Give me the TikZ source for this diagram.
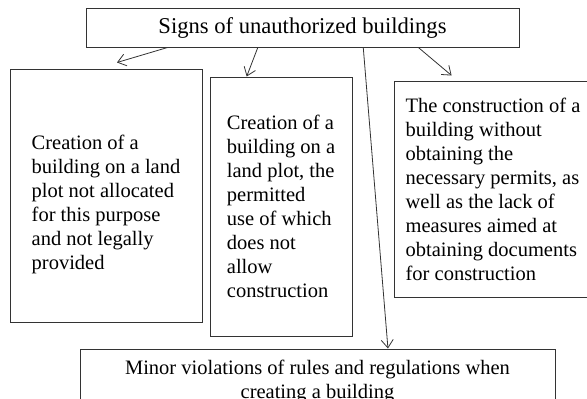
\documentclass[tikz,border=0pt]{standalone}
\usepackage{fontspec}
\setmainfont{Liberation Serif}
\usetikzlibrary{positioning,calc,arrows.meta}

\begin{document}
\begin{tikzpicture}[x=1pt, y=-1pt]
    \useasboundingbox (0,0) rectangle (587,399);
    \tikzset{box/.style={draw=black!80, line width=1pt, inner sep=0pt, align=left,
                         font=\fontsize{20.5}{24}\selectfont},
             sign/.style={draw=black!80, line width=0.8pt, -{Straight Barb[length=8pt,width=12pt]}}}
    % TOP BOX
    \node[box, align=center, font=\fontsize{22.6}{26}\selectfont, minimum width=433pt, minimum height=39pt]
        (signs) at (302.5, 27.5) {Signs of unauthorized buildings};
    % THREE SIGNS
    \node[box, minimum width=192pt, minimum height=253pt] (plot) at (106, 195.5)
        {\rule{0pt}{33pt}Creation of a\\building on a land\\plot not allocated\\for this purpose\\and not legally\\provided};
    \node[box, minimum width=142pt, minimum height=259pt] (use) at (281, 206.5)
        {Creation of a\\building on a\\land plot, the\\permitted\\use of which\\does not\\allow\\construction};
    \node[box, minimum width=198pt, minimum height=216pt] (permits) at (493, 189)
        {The construction of a\\building without\\obtaining the\\necessary permits, as\\well as the lack of\\measures aimed at\\obtaining documents\\for construction};
    % BOTTOM BOX
    \node[box, align=center, minimum width=475pt, minimum height=64pt] (minor) at (317.5, 381)
        {Minor violations of rules and regulations when\\creating a building};
    % ARROWS
    \draw[sign] ($(signs.south west)!0.189!(signs.south east)$) -- ($(plot.north west)!0.557!(plot.north east)+(0,-6)$);
    \draw[sign] ($(signs.south west)!0.397!(signs.south east)$) -- ($(use.north west)!0.26!(use.north east)$);
    \draw[sign] ($(signs.south west)!0.64!(signs.south east)$) -- ($(minor.north west)!0.648!(minor.north east)$);
    \draw[sign] ($(signs.south west)!0.767!(signs.south east)$) -- ($(permits.north west)!0.292!(permits.north east)+(0,-5)$);
\end{tikzpicture}
\end{document}
